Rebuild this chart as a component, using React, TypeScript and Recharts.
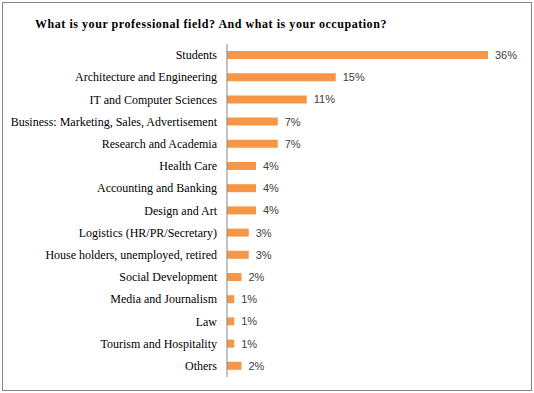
import React from "react";
import { BarChart, Bar, XAxis, YAxis, LabelList } from "recharts";

const categories = [
  "Students",
  "Architecture and Engineering",
  "IT and Computer Sciences",
  "Business: Marketing, Sales, Advertisement",
  "Research and Academia",
  "Health Care",
  "Accounting and Banking",
  "Design and Art",
  "Logistics (HR/PR/Secretary)",
  "House holders, unemployed, retired",
  "Social Development",
  "Media and Journalism",
  "Law",
  "Tourism and Hospitality",
  "Others",
];
const shares = [36, 15, 11, 7, 7, 4, 4, 4, 3, 3, 2, 1, 1, 1, 2];
const title = "What is your professional field? And what is your occupation?";

const data = categories.map((name, i) => ({ name, value: shares[i] }));

const CategoryTick = (props: any) => {
  const { x, y, payload } = props;
  return (
    <text
      x={x}
      y={y}
      dy={4}
      textAnchor="end"
      fontFamily="'Liberation Serif', serif"
      fontSize={12}
      fill="#000"
    >
      {payload.value}
    </text>
  );
};

export default function App() {
  return (
    <div style={{ position: "absolute", left: 0, top: 0, width: 534, height: 393, background: "#fff" }}>
      <div
        style={{
          position: "absolute",
          left: 2,
          top: 2,
          width: 528,
          height: 387,
          border: "1px solid #868686",
        }}
      />
      <div
        style={{
          position: "absolute",
          left: 35,
          top: 17,
          fontFamily: "'Liberation Serif', serif",
          fontWeight: "bold",
          fontSize: 12,
          letterSpacing: 0.55,
          whiteSpace: "nowrap",
          color: "#000",
        }}
      >
        {title}
      </div>
      <div style={{ position: "absolute", left: 0, top: 0 }}>
        <BarChart
          width={534}
          height={393}
          data={data}
          layout="vertical"
          margin={{ top: 44, right: 17, bottom: 16, left: 0 }}
          barCategoryGap={0}
        >
          <XAxis type="number" domain={[0, 40]} hide />
          <YAxis
            type="category"
            dataKey="name"
            width={227}
            axisLine={{ stroke: "#868686" }}
            tickLine={false}
            interval={0}
            tickMargin={4}
            tick={<CategoryTick />}
          />
          <Bar dataKey="value" fill="#F79646" barSize={8} isAnimationActive={false}>
            <LabelList
              dataKey="value"
              position="right"
              offset={7}
              formatter={(v: any) => `${v}%`}
              style={{ fontFamily: "'Liberation Sans', sans-serif", fontSize: 11, fill: "#404040" }}
            />
          </Bar>
        </BarChart>
      </div>
    </div>
  );
}
